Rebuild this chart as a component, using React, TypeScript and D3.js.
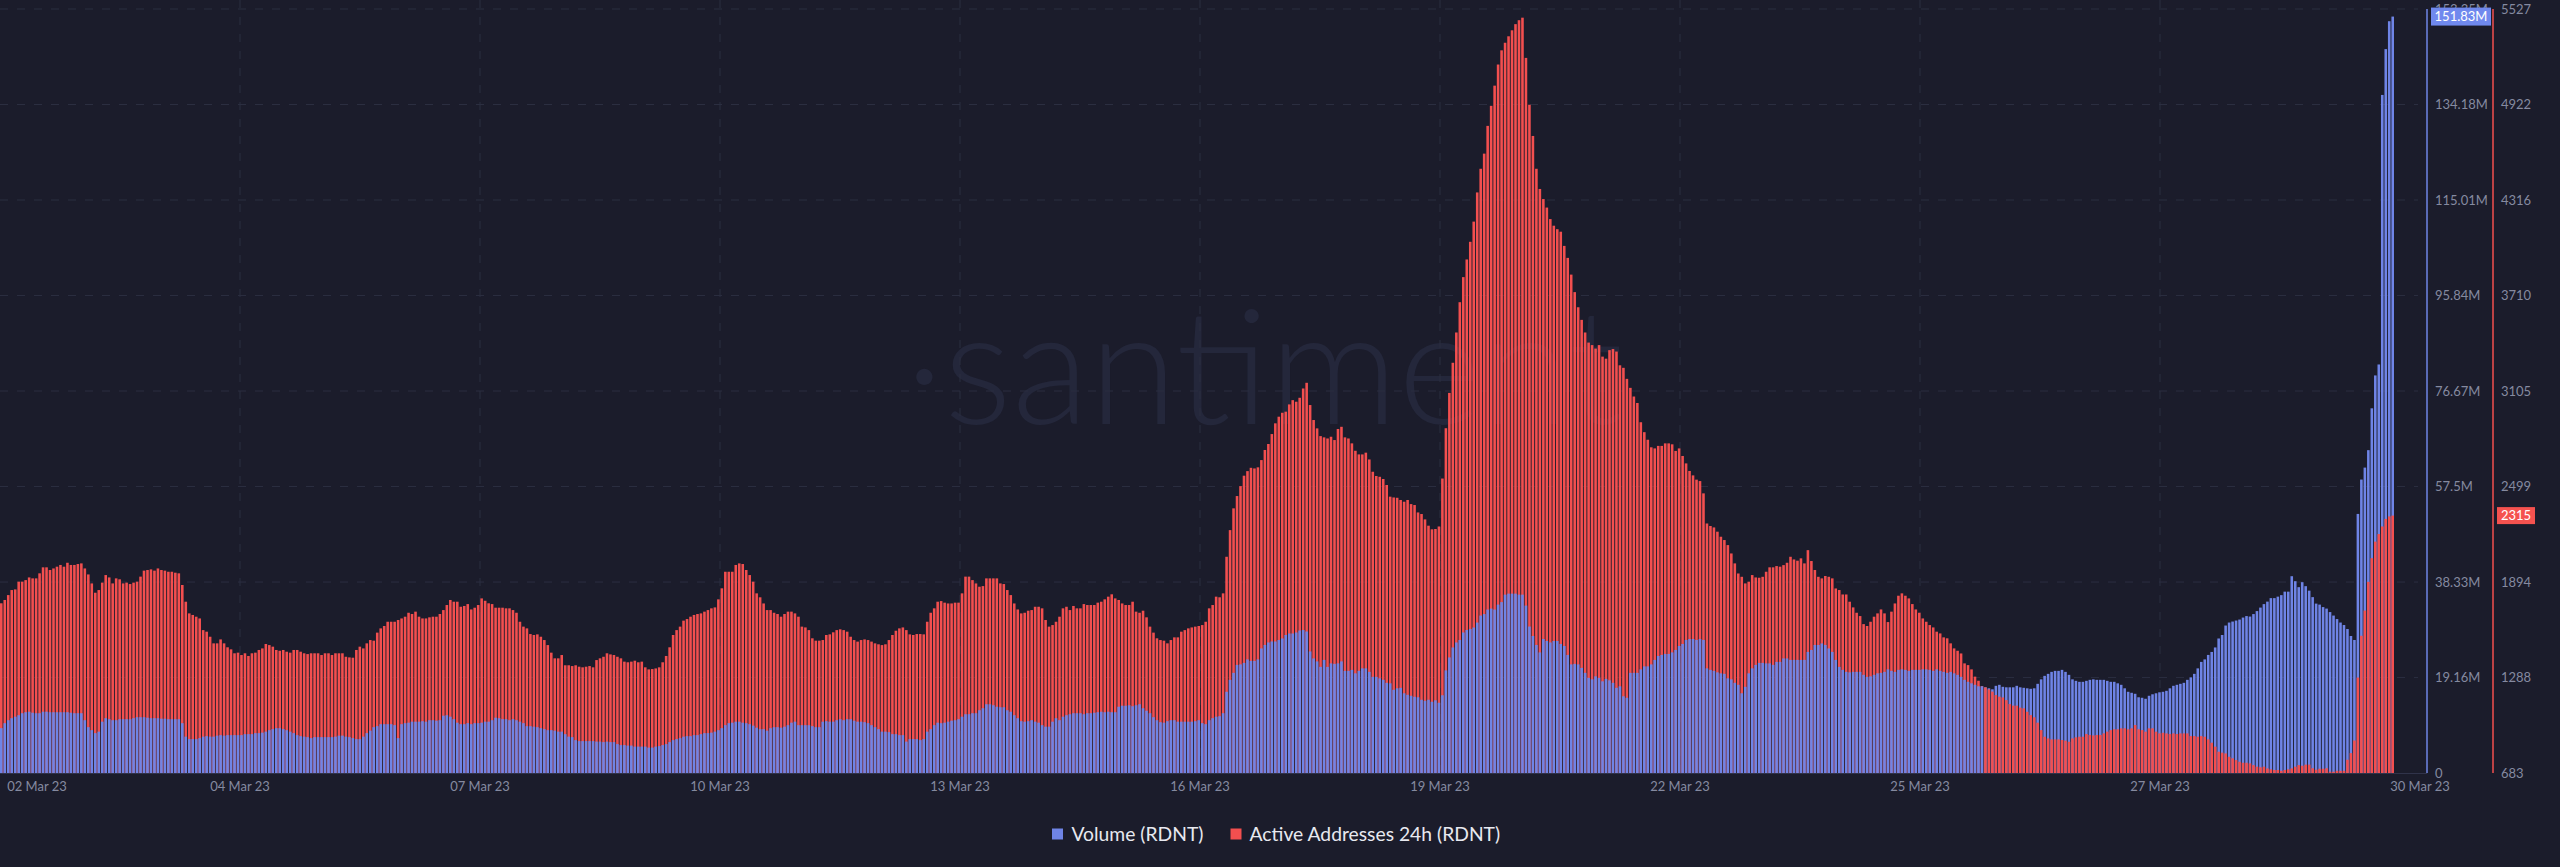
import React from "react";
import * as d3 from "d3";

// hourly values, 02 Mar 23 -> 29 Mar 23
const volumeM = [
  9.0,10.0,10.6,11.0,11.3,11.6,12.0,12.2,12.3,12.1,12.0,12.0,12.3,12.3,12.2,12.2,12.2,12.2,12.2,12.2,
  12.1,12.0,12.0,12.0,10.6,9.2,8.6,8.0,8.3,10.3,11.0,10.8,10.6,10.6,10.8,10.8,10.8,10.8,11.0,11.2,
  11.2,11.2,11.1,11.0,11.0,11.0,10.9,10.9,10.8,10.8,10.8,10.8,10.0,7.3,6.8,6.8,6.8,7.0,7.3,7.4,
  7.3,7.3,7.5,7.6,7.5,7.6,7.6,7.6,7.6,7.6,7.8,7.8,7.8,8.0,8.0,8.1,8.3,8.6,8.8,9.0,
  9.0,8.8,8.6,8.3,8.0,7.6,7.4,7.3,7.2,7.0,7.2,7.2,7.2,7.2,7.2,7.2,7.3,7.5,7.5,7.3,
  7.2,7.0,6.8,6.8,7.3,8.0,8.5,9.2,9.4,9.8,9.8,9.8,9.8,9.6,7.0,9.8,
  10.0,10.1,10.3,10.3,10.3,10.4,10.3,10.6,10.6,10.5,10.6,11.5,11.6,11.3,10.8,10.1,9.8,9.8,10.0,9.8,10.0,10.0,10.1,
  10.3,10.3,10.6,11.1,11.0,10.8,10.8,10.6,10.8,10.6,10.3,10.0,9.4,9.4,9.3,9.2,9.0,8.8,8.6,8.6,8.5,8.3,8.3,
  7.8,7.3,7.2,6.6,6.4,6.4,6.4,6.4,6.4,6.3,6.3,6.2,6.3,6.2,6.2,5.8,5.6,5.6,5.5,5.5,5.3,5.3,5.3,
  5.3,5.1,5.1,5.3,5.4,5.6,5.8,6.2,6.6,6.8,7.0,7.3,7.4,7.4,7.6,7.6,7.8,8.0,8.0,8.1,8.3,8.6,9.0,
  9.6,10.0,10.1,10.3,10.3,10.1,10.0,9.8,9.5,9.1,8.8,8.8,8.5,9.0,9.2,9.2,9.1,9.3,9.6,10.1,10.3,9.6,9.6,
  9.6,9.6,9.4,9.2,9.2,10.3,10.4,10.3,10.3,10.6,10.8,10.6,
  10.8,10.8,10.5,10.3,10.3,10.2,10.0,9.6,9.2,8.8,8.3,8.3,8.2,7.8,7.8,7.6,7.6,6.3,6.8,6.8,6.8,6.6,6.8,
  8.3,8.8,9.6,10.1,10.0,10.1,10.3,10.5,10.6,10.8,11.3,11.8,11.8,12.0,12.0,12.6,13.0,13.8,13.8,13.6,13.3,13.2,13.2,
  12.6,12.3,11.6,11.0,10.4,10.3,10.4,10.6,10.3,10.1,9.6,9.3,9.3,10.3,11.0,10.6,11.3,11.6,11.8,12.0,12.0,12.0,11.8,
  12.0,12.0,12.1,12.2,12.3,12.2,12.3,12.2,12.2,13.3,13.5,13.5,13.6,13.4,13.6,13.8,13.0,12.5,12.0,11.2,10.6,10.2,10.1,
  10.4,10.6,10.6,10.3,10.3,10.3,10.3,10.3,10.4,10.6,10.0,
  9.8,10.6,11.0,11.3,11.4,12.0,16.3,18.7,20.1,21.7,21.8,22.1,22.8,22.5,22.5,
  22.8,25.0,25.7,26.2,26.4,26.4,26.7,27.0,27.7,28.0,28.0,28.2,28.6,28.7,28.4,24.4,23.0,22.4,21.3,22.7,21.3,22.0,21.9,
  22.0,22.4,20.5,20.5,20.7,20.0,20.5,21.0,21.0,20.3,19.3,19.3,19.0,18.7,18.1,18.0,16.7,17.0,17.1,16.0,15.7,15.5,15.3,
  15.2,14.7,14.5,14.7,14.3,
  14.6,14.1,15.6,20.6,23.2,25.2,26.2,26.7,28.2,28.7,28.9,29.2,
  30.2,31.6,31.9,32.8,33.0,32.8,33.8,34.3,35.8,36.0,36.0,36.0,35.8,35.8,33.6,29.4,27.5,25.7,24.2,
  26.9,26.5,26.2,26.5,26.5,25.9,25.5,23.7,21.8,21.9,21.8,21.1,20.1,19.1,18.8,19.4,19.1,18.4,18.9,
  18.6,18.1,17.1,17.4,15.4,15.1,20.1,20.1,20.1,20.8,21.4,21.4,21.8,22.7,23.5,23.7,23.9,
  23.9,24.2,24.7,25.5,25.9,26.7,26.9,26.9,26.7,26.9,
  26.7,21.0,20.7,20.5,20.2,20.0,19.9,19.0,18.8,18.1,17.7,16.0,17.3,20.0,21.0,21.7,22.1,22.1,22.0,22.0,21.7,22.3,22.3,
  23.0,23.0,22.7,22.7,22.7,22.7,22.7,24.3,24.7,25.7,25.7,26.0,25.7,25.0,24.3,22.7,21.3,20.7,20.3,20.2,20.3,20.3,20.3,
  19.7,19.3,19.4,19.7,20.0,20.1,20.3,20.8,20.5,20.3,20.7,20.8,20.7,20.5,20.7,20.7,20.7,20.8,20.8,20.7,20.5,20.8,20.5,
  20.3,20.1,20.3,20.0,19.7,19.3,18.7,18.3,18.0,17.7,17.4,17.4,17.2,17.0,16.8,17.5,17.7,
  17.3,17.2,17.2,17.2,17.5,17.2,17.1,17.0,16.9,17.0,17.9,18.8,19.5,19.9,20.3,20.5,
  20.5,20.7,20.3,19.7,18.8,18.5,18.3,18.3,18.5,18.7,18.8,18.7,18.7,18.7,18.5,18.3,18.3,18.0,17.7,17.0,16.3,16.1,15.9,
  15.2,15.1,14.9,15.5,15.8,16.0,16.2,16.3,16.5,17.0,17.5,17.7,17.9,18.1,18.7,19.2,19.9,21.0,22.3,22.8,23.7,24.3,25.2,
  27.0,27.7,29.6,30.2,30.4,30.6,30.8,31.2,31.5,31.4,31.9,32.5,33.2,33.9,34.4,35.1,35.1,35.4,35.7,36.4,36.4,
  39.5,38.5,37.3,
  38.3,37.5,36.6,35.3,34.0,33.8,33.3,33.0,32.3,31.6,30.9,30.2,29.7,28.9,27.5,26.7,52.0,58.9,61.3,64.8,73.2,79.8,82.0,
  136.1,145.3,150.9,151.83,
];

const activeAddresses = [
  1759,1780,1811,1843,1847,1896,1896,1906,1923,1917,1917,1949,
  1987,1987,1970,1980,1991,2002,1991,2016,2002,2002,2008,2012,1980,1942,1885,1826,1843,1890,1938,1923,1885,1917,1911,
  1885,1890,1881,1890,1896,1928,1966,1970,1974,1966,1980,1970,1966,1959,1959,1953,1949,1875,1769,1695,1685,1674,1663,
  1589,1579,1547,1505,1505,1530,1505,1480,1467,1442,1446,1431,1442,1425,1442,1446,1463,1473,1501,1494,1484,1463,1458,
  1463,1452,1446,1463,1463,1452,1442,1437,1442,1442,1442,1431,1442,1442,1431,1442,1442,1442,1420,1416,1414,1463,1484,
  1473,1505,1526,1522,1573,1600,1615,1642,1642,1642,1653,1663,
  1674,1699,1691,1706,1674,1663,1663,1670,1674,1674,1691,1716,1748,1780,1769,1769,1737,1742,1754,1720,1731,1748,1790,
  1775,1759,1754,1731,1731,1731,1727,1727,1716,1699,1642,1611,1600,1564,1558,1562,1547,1526,1494,1446,1410,1410,1431,
  1366,1366,1361,1366,1357,1353,1357,1361,1353,1399,1410,1420,1442,1435,1431,1420,1410,1389,1385,1389,1395,1385,1389,
  1353,1340,1342,1346,1353,1385,1425,1480,1558,1589,1611,1649,1659,1674,1685,1691,1695,1706,1716,1727,1733,1784,1854,
  1959,1959,1959,2002,2012,2008,1970,1938,1896,1822,1797,1758,1716,1716,1699,1691,1674,1691,1706,1706,1695,1674,1611,
  1606,1589,1537,1522,1522,1526,1558,1562,1575,1589,1594,1589,
  1579,1547,1526,1516,1526,1530,1526,1516,1505,1499,1494,1499,1526,1558,1585,1600,1606,1589,1562,1558,1564,1564,1562,
  1642,1699,1727,1769,1773,1763,1758,1758,1763,1763,1822,1928,1928,1906,1885,1864,1868,1917,1917,1917,1917,1885,1881,
  1843,1811,1758,1720,1695,1699,1712,1716,1737,1737,1727,1653,1611,1621,1642,1674,1727,1737,1716,1742,1727,1727,1754,
  1748,1748,1748,1763,1769,1784,1801,1816,1790,1780,1758,1748,1748,1769,1706,1699,1712,1670,1611,1573,1537,1526,1522,
  1505,1526,1543,1543,1579,1589,1600,1606,1611,1615,1621,
  1642,1727,1748,1801,1797,1822,2054,2223,2361,2439,2502,2568,2597,2618,2614,
  2621,2667,2731,2769,2832,2900,2942,2967,2974,3020,3047,3037,3062,3121,3157,3016,2921,2868,2819,2811,2804,2815,2794,
  2864,2878,2811,2804,2773,2726,2703,2703,2714,2671,2593,2566,2561,2547,2509,2435,2430,2428,2414,2403,2414,2388,2382,
  2335,2325,2291,2251,2228,
  2230,2246,2550,2869,3093,3284,3476,3668,3827,3939,4051,4179,
  4364,4514,4610,4786,4913,5041,5175,5265,5313,5354,5392,5431,5456,5472,5217,4920,4722,4514,4386,
  4322,4268,4195,4153,4131,4115,4025,3949,3843,3732,3636,3556,3476,3412,3396,3374,3396,3323,3310,
  3364,3371,3355,3268,3252,3182,3125,3070,3029,2907,2844,2796,2748,2741,2757,2757,2773,
  2773,2767,2725,2741,2693,2646,2598,2570,2543,2534,
  2456,2265,2249,2240,2213,2181,2160,2128,2075,2012,1948,1927,1885,1896,1938,1923,1921,1927,1959,1987,1987,1995,1991,
  2001,2016,2054,2037,2029,2044,2012,2096,2027,1970,1927,1917,1932,1927,1917,1853,1843,1815,1815,1769,1733,1699,1678,
  1627,1615,1642,1674,1695,1720,1695,1640,1706,1758,1807,1822,1807,1790,1754,1720,1699,1663,1642,1621,1606,1579,1568,
  1543,1537,1505,1473,1458,1441,1378,1367,1340,1294,1268,1234,1226,1213,1199,1177,1167,
  1162,1145,1120,1110,1110,1097,1093,1071,1050,1036,1002,955,913,902,896,896,
  896,892,888,881,902,909,913,913,930,924,921,924,924,934,945,955,960,960,966,966,960,966,987,
  960,955,945,966,966,945,934,938,934,930,934,930,934,934,934,917,917,913,917,913,896,875,850,
  818,812,807,786,776,765,754,748,748,744,733,723,719,723,712,706,702,702,697,702,706,
  712,723,733,
  729,736,736,713,704,710,710,713,691,691,697,697,697,767,809,889,1288,1553,1713,1895,2045,2150,2198,
  2246,2294,2310,2315,
];

const xTickLabels = [
  "02 Mar 23", "04 Mar 23", "07 Mar 23", "10 Mar 23", "13 Mar 23", "16 Mar 23",
  "19 Mar 23", "22 Mar 23", "25 Mar 23", "27 Mar 23", "30 Mar 23",
];
const volumeTicks = [0, 19.16, 38.33, 57.5, 76.67, 95.84, 115.01, 134.18, 153.35];
const volumeTickLabels = ["0", "19.16M", "38.33M", "57.5M", "76.67M", "95.84M", "115.01M", "134.18M", "153.35M"];
const addressTicks = [683, 1288, 1894, 2499, 3105, 3710, 4316, 4922, 5527];

const seriesNames = ["Volume (RDNT)", "Active Addresses 24h (RDNT)"];

const W = 2560;
const H = 867;
const BG = "#1b1c2b";
const BLUE = "#6f84e6";
const RED = "#f34f4f";
const GRID = "#2b2e40";
const LABEL = "#858aa0";
const FONT = "Lato, 'Open Sans', sans-serif";

export default function App() {
  const top = 9;
  const bottom = 773;
  const plotRight = 2394;
  const gridRight = 2418;
  const volAxisX = 2427;
  const addrAxisX = 2493;
  const tickGap = 240;

  const n = Math.min(volumeM.length, activeAddresses.length);
  const x = d3.scaleBand<number>().domain(d3.range(n)).range([0, plotRight]).paddingInner(0.26);
  const yVol = d3.scaleLinear().domain([0, 153.35]).range([bottom, top]);
  const yAddr = d3.scaleLinear().domain([683, 5527]).range([bottom, top]);

  const bars: React.ReactNode[] = [];
  for (let i = 0; i < n; i++) {
    const yv = yVol(volumeM[i]);
    const ya = yAddr(activeAddresses[i]);
    const blue = (
      <rect key={`v${i}`} x={x(i)} y={yv} width={x.bandwidth()} height={bottom - yv} fill={BLUE} />
    );
    const red = (
      <rect key={`a${i}`} x={x(i)} y={ya} width={x.bandwidth()} height={bottom - ya} fill={RED} />
    );
    // the shorter bar sits in front
    if (yv < ya) bars.push(blue, red);
    else bars.push(red, blue);
  }

  const lastVol = volumeM[n - 1];
  const lastAddr = activeAddresses[n - 1];

  return (
    <svg
      width={W}
      height={H}
      style={{ position: "absolute", left: 0, top: 0, background: BG }}
      fontFamily={FONT}
    >
      <rect width={W} height={H} fill={BG} />
      <text x={905} y={424} fontSize={160} fontWeight={300} fill="#24273b">
        ·santiment
      </text>

      {volumeTicks.slice(1).map((t) => (
        <line
          key={`hg${t}`}
          x1={0}
          x2={gridRight}
          y1={yVol(t)}
          y2={yVol(t)}
          stroke={GRID}
          strokeWidth={1}
          strokeDasharray="8,9"
        />
      ))}
      {xTickLabels.slice(1, -1).map((_, k) => (
        <line
          key={`vg${k}`}
          x1={(k + 1) * tickGap}
          x2={(k + 1) * tickGap}
          y1={0}
          y2={bottom}
          stroke={GRID}
          strokeWidth={1}
          strokeDasharray="8,9"
        />
      ))}

      <g>{bars}</g>

      <line x1={0} x2={volAxisX} y1={bottom + 0.5} y2={bottom + 0.5} stroke="#30334a" />
      <line x1={volAxisX} x2={volAxisX} y1={top} y2={bottom} stroke={BLUE} strokeWidth={1.5} />
      <line x1={addrAxisX} x2={addrAxisX} y1={top} y2={bottom} stroke={RED} strokeWidth={1.5} />

      {volumeTicks.map((t, i) => (
        <text key={`vt${i}`} x={volAxisX + 8} y={yVol(t)} dy="0.35em" fontSize={13} fill={LABEL}>
          {volumeTickLabels[i]}
        </text>
      ))}
      {addressTicks.map((t, i) => (
        <text key={`at${i}`} x={addrAxisX + 8} y={yAddr(t)} dy="0.35em" fontSize={13} fill={LABEL}>
          {t}
        </text>
      ))}

      {xTickLabels.map((label, k) => {
        const cx = k === 0 ? 37 : k === xTickLabels.length - 1 ? k * tickGap + 20 : k * tickGap;
        return (
          <text key={label} x={cx} y={bottom + 13} dy="0.35em" fontSize={13} fill={LABEL} textAnchor="middle">
            {label}
          </text>
        );
      })}

      <g transform={`translate(${volAxisX + 4},${yVol(lastVol)})`}>
        <rect x={0} y={-9} width={60} height={18} fill="#7089ee" />
        <text x={30} y={0} dy="0.35em" fontSize={13} fill="#ffffff" textAnchor="middle">
          {d3.format(".2f")(lastVol)}M
        </text>
      </g>
      <g transform={`translate(${addrAxisX + 4},${yAddr(lastAddr)})`}>
        <rect x={0} y={-8.5} width={38} height={17} fill="#f5524f" />
        <text x={19} y={0} dy="0.35em" fontSize={13} fill="#ffffff" textAnchor="middle">
          {lastAddr}
        </text>
      </g>

      <g transform="translate(1052,834)">
        <rect x={0} y={-5.5} width={11} height={11} fill={BLUE} />
        <text x={19.5} y={0} dy="0.35em" fontSize={19.3} fill="#e8e9f0">
          {seriesNames[0]}
        </text>
        <rect x={178.5} y={-5.5} width={11} height={11} fill={RED} />
        <text x={197.5} y={0} dy="0.35em" fontSize={19.3} fill="#e8e9f0">
          {seriesNames[1]}
        </text>
      </g>
    </svg>
  );
}
